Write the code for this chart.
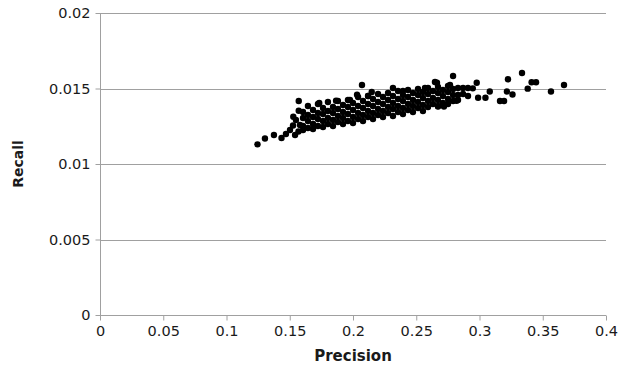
<!DOCTYPE html>
<html>
<head>
<meta charset="utf-8">
<script src="https://cdn.jsdelivr.net/npm/d3@7"></script>
<style>
  body { margin: 0; background: #fff; }
  svg text { font-family: "DejaVu Sans", Verdana, sans-serif; fill: #1a1a1a; }
</style>
</head>
<body>
<div id="chart"></div>
<script>
// tick values for both axes
const xTicks = [0, 0.05, 0.1, 0.15, 0.2, 0.25, 0.3, 0.35, 0.4];
const yTicks = [0, 0.005, 0.01, 0.015, 0.02];
const xTickLabels = ["0", "0.05", "0.1", "0.15", "0.2", "0.25", "0.3", "0.35", "0.4"];
const yTickLabels = ["0", "0.005", "0.01", "0.015", "0.02"];

// [precision, recall]
const points = [
  // low tail
  [0.1245, 0.01130], [0.1304, 0.01169], [0.1375, 0.01192], [0.1435, 0.01172],
  [0.1470, 0.01199], [0.1502, 0.01225], [0.1526, 0.01255], [0.1542, 0.01192],
  [0.1569, 0.01215], [0.1528, 0.01313], [0.1571, 0.01353], [0.1571, 0.01417],
  [0.1549, 0.01291], [0.1581, 0.01258],
  // dense band
  [0.1605, 0.01344], [0.1605, 0.01305], [0.1605, 0.01252], [0.1605, 0.01225],
  [0.1644, 0.01384], [0.1644, 0.01325], [0.1644, 0.01285], [0.1644, 0.01238],
  [0.1684, 0.01358], [0.1684, 0.01311], [0.1684, 0.01265], [0.1684, 0.01232],
  [0.1723, 0.01397], [0.1723, 0.01338], [0.1723, 0.01298], [0.1723, 0.01252],
  [0.1763, 0.01371], [0.1763, 0.01331], [0.1763, 0.01285], [0.1763, 0.01245],
  [0.1802, 0.01411], [0.1802, 0.01351], [0.1802, 0.01305], [0.1802, 0.01265],
  [0.1842, 0.01377], [0.1842, 0.01338], [0.1842, 0.01291], [0.1842, 0.01252],
  [0.1881, 0.01417], [0.1881, 0.01364], [0.1881, 0.01318], [0.1881, 0.01278],
  [0.1921, 0.01391], [0.1921, 0.01344], [0.1921, 0.01305], [0.1921, 0.01265],
  [0.1960, 0.01424], [0.1960, 0.01377], [0.1960, 0.01331], [0.1960, 0.01285],
  [0.2000, 0.01404], [0.2000, 0.01358], [0.2000, 0.01311], [0.2000, 0.01272],
  [0.2040, 0.01444], [0.2040, 0.01384], [0.2040, 0.01338], [0.2040, 0.01298],
  [0.2079, 0.01417], [0.2079, 0.01371], [0.2079, 0.01325], [0.2079, 0.01285],
  [0.2119, 0.01450], [0.2119, 0.01397], [0.2119, 0.01351], [0.2119, 0.01311],
  [0.2158, 0.01430], [0.2158, 0.01384], [0.2158, 0.01338], [0.2158, 0.01298],
  [0.2198, 0.01464], [0.2198, 0.01411], [0.2198, 0.01364], [0.2198, 0.01325],
  [0.2237, 0.01444], [0.2237, 0.01397], [0.2237, 0.01351], [0.2237, 0.01311],
  [0.2277, 0.01470], [0.2277, 0.01424], [0.2277, 0.01377], [0.2277, 0.01338],
  [0.2316, 0.01450], [0.2316, 0.01404], [0.2316, 0.01364], [0.2316, 0.01318],
  [0.2356, 0.01483], [0.2356, 0.01430], [0.2356, 0.01384], [0.2356, 0.01344],
  [0.2395, 0.01457], [0.2395, 0.01417], [0.2395, 0.01371], [0.2395, 0.01331],
  [0.2435, 0.01490], [0.2435, 0.01444], [0.2435, 0.01397], [0.2435, 0.01358],
  [0.2474, 0.01470], [0.2474, 0.01424], [0.2474, 0.01384], [0.2474, 0.01344],
  [0.2514, 0.01497], [0.2514, 0.01457], [0.2514, 0.01411], [0.2514, 0.01371],
  [0.2553, 0.01477], [0.2553, 0.01437], [0.2553, 0.01391], [0.2553, 0.01351],
  [0.2593, 0.01503], [0.2593, 0.01464], [0.2593, 0.01417], [0.2593, 0.01377],
  [0.2632, 0.01483], [0.2632, 0.01437], [0.2632, 0.01397],
  [0.2672, 0.01510], [0.2672, 0.01470], [0.2672, 0.01424], [0.2672, 0.01384],
  [0.2711, 0.01490], [0.2711, 0.01450], [0.2711, 0.01404],
  [0.2751, 0.01517], [0.2751, 0.01477], [0.2751, 0.01430], [0.2751, 0.01397],
  [0.2791, 0.01497], [0.2791, 0.01457], [0.2791, 0.01417],
  [0.2830, 0.01503], [0.2830, 0.01457], [0.2830, 0.01424],
  [0.2870, 0.01503], [0.2870, 0.01464],
  [0.2909, 0.01503], [0.2909, 0.01450],
  // scattered upper / right points
  [0.1733, 0.01404], [0.1866, 0.01419], [0.1976, 0.01424], [0.2032, 0.01459],
  [0.2071, 0.01523], [0.2119, 0.01450], [0.2148, 0.01477], [0.2316, 0.01503],
  [0.2395, 0.01483], [0.2569, 0.01503], [0.2648, 0.01543], [0.2664, 0.01538],
  [0.2791, 0.01583], [0.2767, 0.01523], [0.2978, 0.01538], [0.2947, 0.01501],
  [0.2989, 0.01439], [0.3047, 0.01439], [0.3081, 0.01480], [0.2672, 0.01380],
  [0.2719, 0.01380], [0.2818, 0.01419], [0.3225, 0.01561], [0.3217, 0.01480],
  [0.3261, 0.01460], [0.3162, 0.01417], [0.3194, 0.01417], [0.3336, 0.01603],
  [0.3381, 0.01499], [0.3412, 0.01541], [0.3447, 0.01541], [0.3565, 0.01480],
  [0.3668, 0.01523]
];

const width = 619;
const height = 369;
const margin = { left: 100, right: 13, top: 13, bottom: 54 };

const svg = d3
  .select("#chart")
  .append("svg")
  .attr("width", width)
  .attr("height", height);

const x = d3
  .scaleLinear()
  .domain([0, 0.4])
  .range([margin.left, width - margin.right]);
const y = d3
  .scaleLinear()
  .domain([0, 0.02])
  .range([height - margin.bottom, margin.top]);

const axisColor = "#a0a0a0";

// horizontal gridlines
svg
  .append("g")
  .attr("class", "grid")
  .selectAll("line")
  .data(yTicks.filter((d) => d > 0))
  .join("line")
  .attr("x1", x(0))
  .attr("x2", x(0.4))
  .attr("y1", (d) => Math.round(y(d)) + 0.5)
  .attr("y2", (d) => Math.round(y(d)) + 0.5)
  .attr("stroke", axisColor)
  .attr("stroke-width", 1);

// y axis
const yAxis = d3
  .axisLeft(y)
  .tickValues(yTicks)
  .tickSize(5)
  .tickPadding(5)
  .tickFormat((d, i) => yTickLabels[i]);
const gy = svg
  .append("g")
  .attr("transform", "translate(" + (Math.round(x(0)) + 0.5) + ",0)")
  .call(yAxis);
gy.select(".domain").attr("stroke", axisColor).attr("d", "M0," + y(0) + "V" + y(0.02));
gy.selectAll(".tick line").attr("stroke", axisColor);
gy.selectAll(".tick text").style("font-size", "14.5px").attr("fill", "#1a1a1a");

// x axis
const xAxis = d3
  .axisBottom(x)
  .tickValues(xTicks)
  .tickSize(5)
  .tickPadding(5)
  .tickFormat((d, i) => xTickLabels[i]);
const gx = svg
  .append("g")
  .attr("transform", "translate(0," + (Math.round(y(0)) + 0.5) + ")")
  .call(xAxis);
gx.select(".domain").attr("stroke", axisColor).attr("d", "M" + x(0) + ",0H" + x(0.4));
gx.selectAll(".tick line").attr("stroke", axisColor);
gx.selectAll(".tick text").style("font-size", "14.5px").attr("fill", "#1a1a1a");

// points
svg
  .append("g")
  .attr("class", "dots")
  .selectAll("circle")
  .data(points)
  .join("circle")
  .attr("cx", (d) => x(d[0]))
  .attr("cy", (d) => y(d[1]))
  .attr("r", 3.2)
  .attr("fill", "#000");

// axis titles
svg
  .append("text")
  .attr("x", x(0.2))
  .attr("y", 361)
  .attr("text-anchor", "middle")
  .style("font-size", "15px")
  .style("font-weight", "bold")
  .text("Precision");

svg
  .append("text")
  .attr("transform", "translate(23," + y(0.01) + ") rotate(-90)")
  .attr("text-anchor", "middle")
  .style("font-size", "14px")
  .style("font-weight", "bold")
  .text("Recall");
</script>
</body>
</html>
